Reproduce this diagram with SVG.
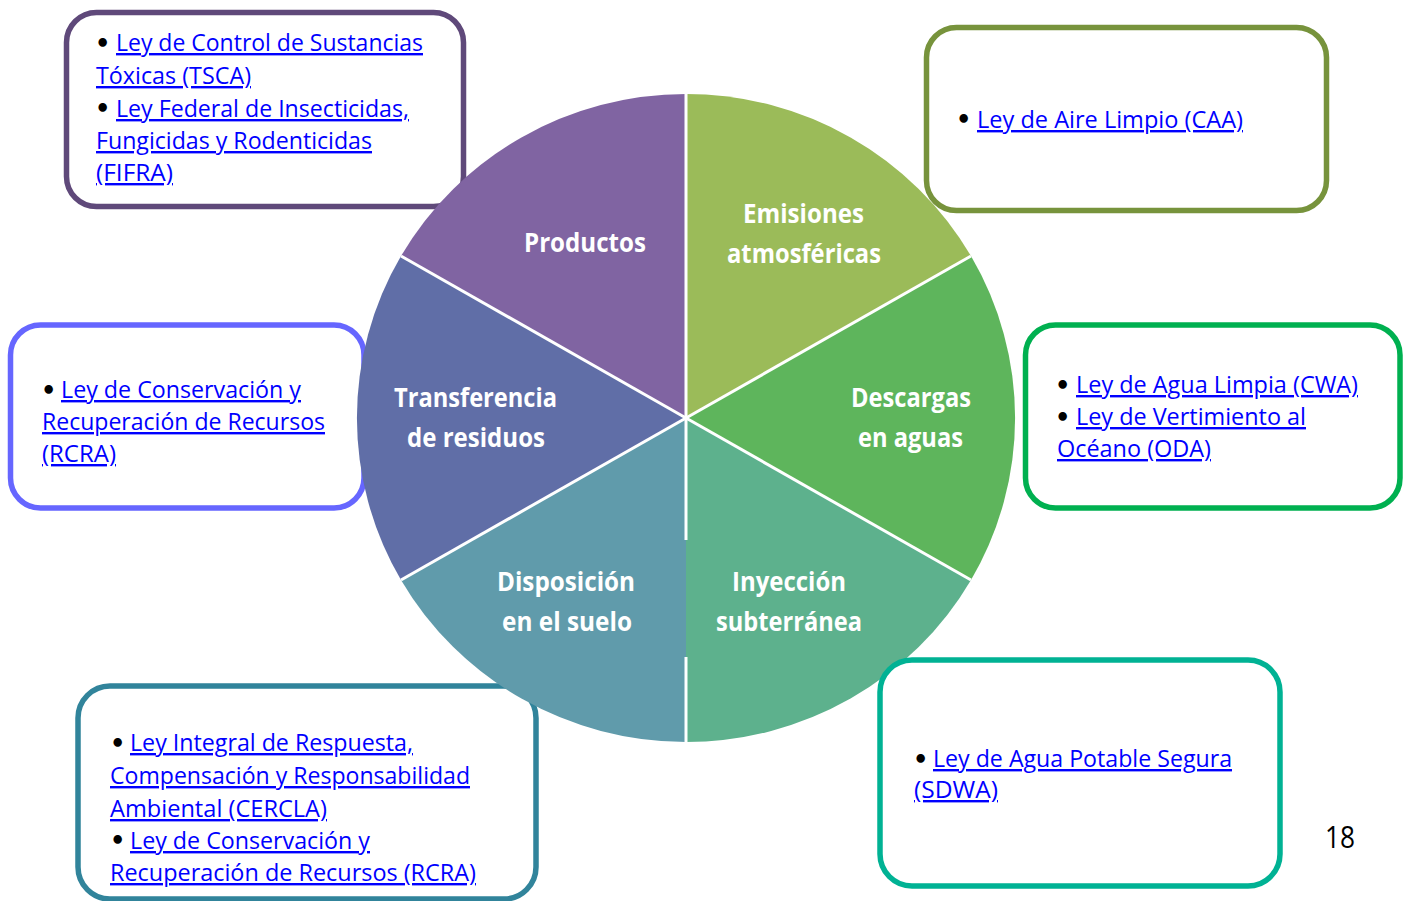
<svg xmlns="http://www.w3.org/2000/svg" width="1405" height="901" viewBox="0 0 1405 901">
<style>
.box{fill:#ffffff;stroke-width:5.5}
.lnk{font-family:"Open Sans","Noto Sans","Liberation Sans",sans-serif;font-size:24px;fill:#0000ff;text-decoration:underline}
.bul{font-family:"DejaVu Sans","Liberation Sans",sans-serif;font-size:24px;font-weight:bold;fill:#000000}
.lbl{font-family:"Open Sans","Noto Sans","Liberation Sans",sans-serif;font-size:27px;font-weight:bold;fill:#ffffff}
.pg{font-family:"Open Sans","Noto Sans","Liberation Sans",sans-serif;font-size:31px;fill:#000000}
.div{stroke:#ffffff;stroke-width:3;fill:none}
</style>
<rect width="1405" height="901" fill="#ffffff"/>

<!-- boxes under the pie -->
<g id="box-tsca">
<rect class="box" x="66.5" y="12.5" width="397" height="194" rx="30" stroke="#5f497a"/>
<text class="bul" x="95" y="52">•</text>
<text class="lnk" x="116" y="51" textLength="307" lengthAdjust="spacingAndGlyphs">Ley de Control de Sustancias</text>
<text class="lnk" x="96" y="84" textLength="155" lengthAdjust="spacingAndGlyphs">Tóxicas (TSCA)</text>
<text class="bul" x="95" y="117">•</text>
<text class="lnk" x="116" y="117" textLength="293" lengthAdjust="spacingAndGlyphs">Ley Federal de Insecticidas,</text>
<text class="lnk" x="96" y="149" textLength="276" lengthAdjust="spacingAndGlyphs">Fungicidas y Rodenticidas</text>
<text class="lnk" x="96" y="181" textLength="77" lengthAdjust="spacingAndGlyphs">(FIFRA)</text>
</g>

<g id="box-rcra">
<rect class="box" x="10.5" y="325" width="353.5" height="183" rx="30" stroke="#6666ff"/>
<text class="bul" x="41" y="399">•</text>
<text class="lnk" x="61" y="398" textLength="240" lengthAdjust="spacingAndGlyphs">Ley de Conservación y</text>
<text class="lnk" x="42" y="430" textLength="283" lengthAdjust="spacingAndGlyphs">Recuperación de Recursos</text>
<text class="lnk" x="42" y="462" textLength="74" lengthAdjust="spacingAndGlyphs">(RCRA)</text>
</g>

<g id="box-cercla">
<rect class="box" x="78" y="686" width="458" height="213" rx="32" stroke="#31849b"/>
<text class="bul" x="110" y="752">•</text>
<text class="lnk" x="130" y="751" textLength="283" lengthAdjust="spacingAndGlyphs">Ley Integral de Respuesta,</text>
<text class="lnk" x="110" y="784" textLength="360" lengthAdjust="spacingAndGlyphs">Compensación y Responsabilidad</text>
<text class="lnk" x="110" y="817" textLength="217" lengthAdjust="spacingAndGlyphs">Ambiental (CERCLA)</text>
<text class="bul" x="110" y="849">•</text>
<text class="lnk" x="130" y="849" textLength="240" lengthAdjust="spacingAndGlyphs">Ley de Conservación y</text>
<text class="lnk" x="110" y="881" textLength="366" lengthAdjust="spacingAndGlyphs">Recuperación de Recursos (RCRA)</text>
</g>

<!-- pie -->
<g id="pie">
<g id="slice-productos">
<path d="M686,418 L686,94 A329,324 0 0 0 401,256 Z" fill="#8064a2"/>
<text class="lbl" x="524" y="252" textLength="122" lengthAdjust="spacingAndGlyphs">Productos</text>
</g>
<g id="slice-emisiones">
<path d="M686,418 L686,94 A329,324 0 0 1 971,256 Z" fill="#9bbb59"/>
<text class="lbl" x="743" y="223" textLength="121" lengthAdjust="spacingAndGlyphs">Emisiones</text>
<text class="lbl" x="727" y="263" textLength="154" lengthAdjust="spacingAndGlyphs">atmosféricas</text>
</g>
<g id="slice-descargas">
<path d="M686,418 L971,256 A329,324 0 0 1 971,580 Z" fill="#5eb55c"/>
<text class="lbl" x="851" y="407" textLength="120" lengthAdjust="spacingAndGlyphs">Descargas</text>
<text class="lbl" x="858" y="447" textLength="105" lengthAdjust="spacingAndGlyphs">en aguas</text>
</g>
<g id="slice-inyeccion">
<path d="M686,418 L971,580 A329,324 0 0 1 686,742 Z" fill="#5db18d"/>
<text class="lbl" x="732" y="591" textLength="114" lengthAdjust="spacingAndGlyphs">Inyección</text>
<text class="lbl" x="716" y="631" textLength="146" lengthAdjust="spacingAndGlyphs">subterránea</text>
</g>
<g id="slice-disposicion">
<path d="M686,418 L686,742 A329,324 0 0 1 401,580 Z" fill="#609bab"/>
<text class="lbl" x="497" y="591" textLength="138" lengthAdjust="spacingAndGlyphs">Disposición</text>
<text class="lbl" x="502" y="631" textLength="130" lengthAdjust="spacingAndGlyphs">en el suelo</text>
</g>
<g id="slice-transferencia">
<path d="M686,418 L401,580 A329,324 0 0 1 401,256 Z" fill="#606ea7"/>
<text class="lbl" x="394" y="407" textLength="163" lengthAdjust="spacingAndGlyphs">Transferencia</text>
<text class="lbl" x="407" y="447" textLength="138" lengthAdjust="spacingAndGlyphs">de residuos</text>
</g>
</g>

<g id="connectors">
<line class="div" x1="686" y1="418" x2="686" y2="94"/>
<line class="div" x1="686" y1="418" x2="686" y2="540"/>
<line class="div" x1="686" y1="657" x2="686" y2="742"/>
<line class="div" x1="686" y1="418" x2="971" y2="256"/>
<line class="div" x1="686" y1="418" x2="971" y2="580"/>
<line class="div" x1="686" y1="418" x2="401" y2="580"/>
<line class="div" x1="686" y1="418" x2="401" y2="256"/>
</g>

<!-- boxes over the pie -->
<g id="box-caa">
<rect class="box" x="926.5" y="27.5" width="400" height="183" rx="30" stroke="#77933c"/>
<text class="bul" x="956" y="128">•</text>
<text class="lnk" x="977" y="128" textLength="266" lengthAdjust="spacingAndGlyphs">Ley de Aire Limpio (CAA)</text>
</g>

<g id="box-cwa">
<rect class="box" x="1025.5" y="325" width="374.5" height="183" rx="30" stroke="#00b050"/>
<text class="bul" x="1055" y="394">•</text>
<text class="lnk" x="1076" y="393" textLength="282" lengthAdjust="spacingAndGlyphs">Ley de Agua Limpia (CWA)</text>
<text class="bul" x="1055" y="426">•</text>
<text class="lnk" x="1076" y="425" textLength="230" lengthAdjust="spacingAndGlyphs">Ley de Vertimiento al</text>
<text class="lnk" x="1057" y="457" textLength="154" lengthAdjust="spacingAndGlyphs">Océano (ODA)</text>
</g>

<g id="box-sdwa">
<rect class="box" x="880" y="660" width="400" height="226" rx="32" stroke="#00b294"/>
<text class="bul" x="913" y="768">•</text>
<text class="lnk" x="933" y="767" textLength="299" lengthAdjust="spacingAndGlyphs">Ley de Agua Potable Segura</text>
<text class="lnk" x="914" y="798" textLength="84" lengthAdjust="spacingAndGlyphs">(SDWA)</text>
</g>

<text class="pg" x="1325" y="848" textLength="30" lengthAdjust="spacingAndGlyphs">18</text>
</svg>
